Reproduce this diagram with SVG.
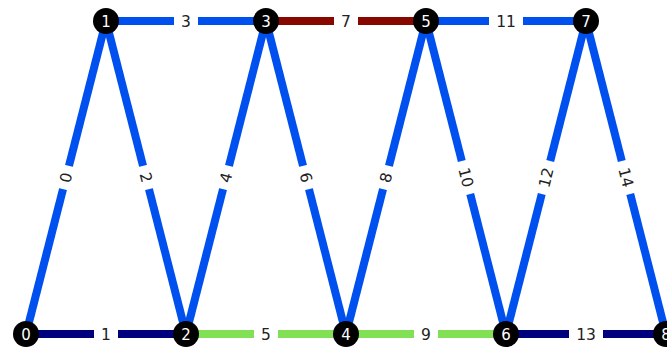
<svg xmlns="http://www.w3.org/2000/svg" width="667" height="350" viewBox="0 0 667 350">
<style>
.e{stroke-width:8;stroke-linecap:butt;fill:none}
.b{stroke:#0050f0}.n{stroke:#00007f}.g{stroke:#82e055}.r{stroke:#880800}
.lb rect{fill:#fff}
.lb text{font-family:"DejaVu Sans",sans-serif;font-size:15.5px;fill:#222;text-anchor:middle}
.nd circle{fill:#000}
.nd text{font-family:"DejaVu Sans",sans-serif;font-size:15px;fill:#fff;text-anchor:middle}
</style>
<rect width="667" height="350" fill="#fff"/>
<g id="connectors">
<line class="e b" x1="26" y1="334" x2="106" y2="21"/>
<line class="e n" x1="26" y1="334" x2="186" y2="334"/>
<line class="e b" x1="106" y1="21" x2="186" y2="334"/>
<line class="e b" x1="106" y1="21" x2="266" y2="21"/>
<line class="e b" x1="186" y1="334" x2="266" y2="21"/>
<line class="e g" x1="186" y1="334" x2="346" y2="334"/>
<line class="e b" x1="266" y1="21" x2="346" y2="334"/>
<line class="e r" x1="266" y1="21" x2="426" y2="21"/>
<line class="e b" x1="346" y1="334" x2="426" y2="21"/>
<line class="e g" x1="346" y1="334" x2="506" y2="334"/>
<line class="e b" x1="426" y1="21" x2="506" y2="334"/>
<line class="e b" x1="426" y1="21" x2="586" y2="21"/>
<line class="e b" x1="506" y1="334" x2="586" y2="21"/>
<line class="e n" x1="506" y1="334" x2="666" y2="334"/>
<line class="e b" x1="586" y1="21" x2="666" y2="334"/>
<g class="lb">
<g transform="translate(66,177.5) rotate(-75.66)"><rect x="-12" y="-9" width="24" height="18"/><text y="5.5">0</text></g>
<g transform="translate(106,334)"><rect x="-12" y="-9" width="24" height="18"/><text y="5.5">1</text></g>
<g transform="translate(146,177.5) rotate(75.66)"><rect x="-12" y="-9" width="24" height="18"/><text y="5.5">2</text></g>
<g transform="translate(186,21)"><rect x="-12" y="-9" width="24" height="18"/><text y="5.5">3</text></g>
<g transform="translate(226,177.5) rotate(-75.66)"><rect x="-12" y="-9" width="24" height="18"/><text y="5.5">4</text></g>
<g transform="translate(266,334)"><rect x="-12" y="-9" width="24" height="18"/><text y="5.5">5</text></g>
<g transform="translate(306,177.5) rotate(75.66)"><rect x="-12" y="-9" width="24" height="18"/><text y="5.5">6</text></g>
<g transform="translate(346,21)"><rect x="-12" y="-9" width="24" height="18"/><text y="5.5">7</text></g>
<g transform="translate(386,177.5) rotate(-75.66)"><rect x="-12" y="-9" width="24" height="18"/><text y="5.5">8</text></g>
<g transform="translate(426,334)"><rect x="-12" y="-9" width="24" height="18"/><text y="5.5">9</text></g>
<g transform="translate(466,177.5) rotate(75.66)"><rect x="-17" y="-9" width="34" height="18"/><text y="5.5">10</text></g>
<g transform="translate(506,21)"><rect x="-17" y="-9" width="34" height="18"/><text y="5.5">11</text></g>
<g transform="translate(546,177.5) rotate(-75.66)"><rect x="-17" y="-9" width="34" height="18"/><text y="5.5">12</text></g>
<g transform="translate(586,334)"><rect x="-17" y="-9" width="34" height="18"/><text y="5.5">13</text></g>
<g transform="translate(626,177.5) rotate(75.66)"><rect x="-17" y="-9" width="34" height="18"/><text y="5.5">14</text></g>
</g>
</g>
<g id="node0" class="nd"><circle cx="26" cy="334" r="13"/><text x="26" y="339.5">0</text></g>
<g id="node1" class="nd"><circle cx="106" cy="21" r="13"/><text x="106" y="26.5">1</text></g>
<g id="node2" class="nd"><circle cx="186" cy="334" r="13"/><text x="186" y="339.5">2</text></g>
<g id="node3" class="nd"><circle cx="266" cy="21" r="13"/><text x="266" y="26.5">3</text></g>
<g id="node4" class="nd"><circle cx="346" cy="334" r="13"/><text x="346" y="339.5">4</text></g>
<g id="node5" class="nd"><circle cx="426" cy="21" r="13"/><text x="426" y="26.5">5</text></g>
<g id="node6" class="nd"><circle cx="506" cy="334" r="13"/><text x="506" y="339.5">6</text></g>
<g id="node7" class="nd"><circle cx="586" cy="21" r="13"/><text x="586" y="26.5">7</text></g>
<g id="node8" class="nd"><circle cx="666" cy="334" r="13"/><text x="666" y="339.5">8</text></g>
</svg>
